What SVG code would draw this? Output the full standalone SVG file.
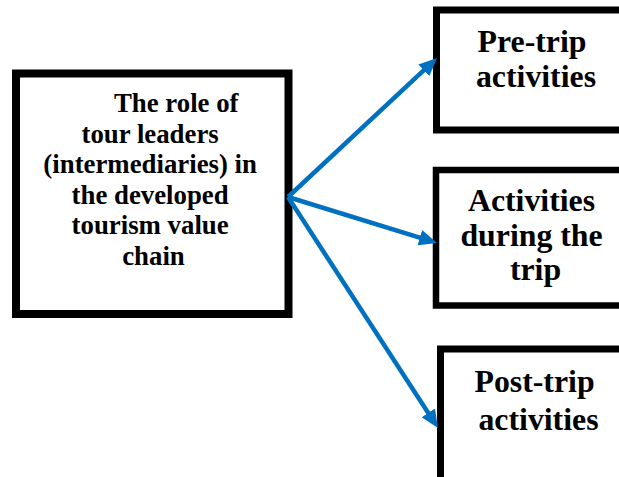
<svg xmlns="http://www.w3.org/2000/svg" width="619" height="477" viewBox="0 0 619 477">
  <style>
    .box { fill: #ffffff; stroke: #000000; }
    .lbl { font-weight: bold; fill: #000000; text-anchor: middle; }
    .main { font-size: 26.8px; }
    .side { font-size: 31.8px; }
    .arrow { stroke: #0070C0; stroke-width: 4.5; fill: none; marker-end: url(#head); }
  </style>
  <defs>
    <marker id="head" markerUnits="userSpaceOnUse" viewBox="0 0 18 16" markerWidth="18" markerHeight="16" refX="10" refY="8" orient="auto">
      <path d="M0,0 L18,8 L0,16 z" fill="#0070C0"/>
    </marker>
  </defs>
  <rect width="619" height="477" fill="#ffffff"/>

  <g id="node-role">
    <rect class="box" x="16" y="73.5" width="272.5" height="240.5" stroke-width="8"/>
    <text class="lbl main" font-family="'Liberation Serif', 'Times New Roman', serif">
      <tspan x="114" y="112" text-anchor="start">The role of</tspan>
      <tspan x="153.5" y="142.5">tour leaders</tspan>
      <tspan x="153.5" y="173">(intermediaries) in</tspan>
      <tspan x="153.5" y="203.5">the developed</tspan>
      <tspan x="153.5" y="234">tourism value</tspan>
      <tspan x="153.5" y="264.5">chain</tspan>
    </text>
  </g>

  <g id="node-pre">
    <rect class="box" x="436.5" y="10" width="200" height="120" stroke-width="7"/>
    <text class="lbl side" font-family="'Liberation Serif', 'Times New Roman', serif">
      <tspan x="536" y="52">Pre-trip</tspan>
      <tspan x="536" y="87">activities</tspan>
    </text>
  </g>

  <g id="node-during">
    <rect class="box" x="436" y="170" width="200" height="135.5" stroke-width="6.5"/>
    <text class="lbl side" font-family="'Liberation Serif', 'Times New Roman', serif">
      <tspan x="535.5" y="211">Activities</tspan>
      <tspan x="535.5" y="245.5">during the</tspan>
      <tspan x="535.5" y="280">trip</tspan>
    </text>
  </g>

  <g id="node-post">
    <rect class="box" x="440.5" y="349" width="200" height="200" stroke-width="7"/>
    <text class="lbl side" font-family="'Liberation Serif', 'Times New Roman', serif">
      <tspan x="538.5" y="392">Post-trip</tspan>
      <tspan x="538.5" y="430">activities</tspan>
    </text>
  </g>

  <g id="connectors">
    <line class="arrow" x1="288" y1="197" x2="431.15" y2="63.46"/>
    <line class="arrow" x1="288" y1="197" x2="429.35" y2="240.64"/>
    <line class="arrow" x1="288" y1="197" x2="433.64" y2="421.29"/>
  </g>
</svg>
